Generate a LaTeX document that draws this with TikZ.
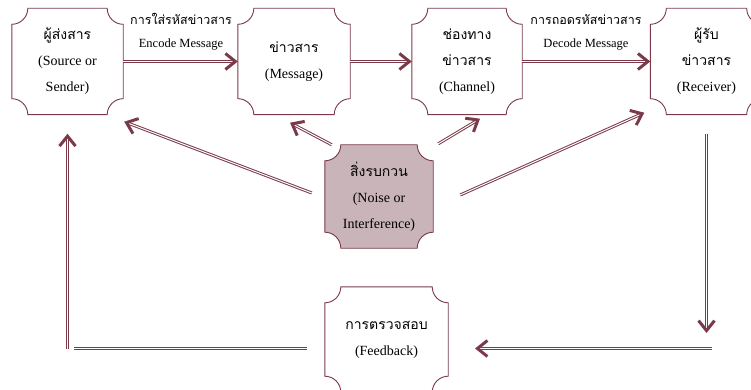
\documentclass[tikz,border=0pt]{standalone}
\usepackage{fontspec}
\setmainfont{Liberation Serif}
\newfontfamily\thai[Script=Thai]{Loma}
\usetikzlibrary{arrows.meta,calc,backgrounds,decorations.markings}
\definecolor{wine}{RGB}{122,58,74}
\definecolor{mauve}{RGB}{201,181,185}

\begin{document}
\begin{tikzpicture}[x=1pt,y=1pt,
    box/.style={minimum width=#1, minimum height=106pt, inner sep=0pt, align=center,
      font=\fontsize{14}{26}\selectfont},
    plaque/.style={draw=wine, line width=0.9pt},
    rail/.style={draw=wine, line width=1pt, double=white, double distance=1pt},
    link/.style={rail, shorten >=3pt, postaction={decorate, decoration={markings,
      mark=at position 1 with {\arrow[wine, line width=3pt]{Straight Barb[length=10pt,width=16pt]}}}}},
    lbl/.style={align=center, font=\fontsize{12.5}{23}\selectfont}]
    \useasboundingbox (0,0) rectangle (751,-390);

    % top row
    \node[box=111pt] (sender) at (67.5,-61.5) {{\thai ผู้ส่งสาร}\\(Source or\\Sender)};
    \node[box=112pt] (message) at (294,-61.5) {{\thai ข่าวสาร}\\(Message)};
    \node[box=110pt] (channel) at (467,-61.5) {{\thai ช่องทาง}\\{\thai ข่าวสาร}\\(Channel)};
    \node[box=112pt] (receiver) at (706.5,-61.5) {{\thai ผู้รับ}\\{\thai ข่าวสาร}\\(Receiver)};

    % middle and bottom
    \node[box=108pt, minimum height=103pt] (noise) at (379,-196.5) {{\thai สิ่งรบกวน}\\(Noise or\\Interference)};
    \node[box=123pt, minimum height=105pt] (feedback) at (386.5,-339.5) {{\thai การตรวจสอบ}\\(Feedback)};

    \node[lbl] (enclbl) at (181,-32) {{\thai การใส่รหัสข่าวสาร}\\Encode Message};
    \node[lbl] (declbl) at (586,-32) {{\thai การถอดรหัสข่าวสาร}\\Decode Message};

    % plaque outlines
    \begin{scope}[on background layer]
    \fill[white] (0,0) rectangle (751,-390);
    \foreach \b/\c in {sender/white,message/white,channel/white,receiver/white,noise/mauve,feedback/white}
      \draw[plaque, fill=\c] let \p1=(\b.north west), \p2=(\b.south east) in
        (\x1+16pt,\y1) -- (\x2-16pt,\y1) arc[start angle=180,end angle=270,radius=16]
        -- (\x2,\y2+16pt) arc[start angle=90,end angle=180,radius=16]
        -- (\x1+16pt,\y2) arc[start angle=0,end angle=90,radius=16]
        -- (\x1,\y1-16pt) arc[start angle=270,end angle=360,radius=16] -- cycle;
    \end{scope}

    % message flow
    \draw[link] (sender) -- (message);
    \draw[link] (message) -- (channel);
    \draw[link] (channel) -- (receiver);

    % noise
    \draw[link] ([shift={(-13pt,3.5pt)}]noise.west) -- ([shift={(1pt,-7pt)}]sender.south east);
    \draw[link] ([xshift=7pt]noise.north west) -- ([shift={(-4pt,-8pt)}]message.south);
    \draw[link] ([shift={(5pt,1pt)}]noise.north east) -- ([shift={(13pt,-4pt)}]channel.south);
    \draw[link] ([shift={(27pt,1.5pt)}]noise.east) -- ([shift={(-6pt,2pt)}]receiver.south west);

    % feedback loop
    \coordinate (rdrop) at (706.5,-333);
    \coordinate (rturn) at (712,-348.5);
    \coordinate (fbin) at (475,-348.5);
    \coordinate (fbout) at (307,-348.5);
    \coordinate (lturn) at (74,-348.5);
    \coordinate (lfoot) at (67.5,-348.5);
    \draw[link] ([yshift=-19pt]receiver.south) -- (rdrop);
    \draw[link] (rturn) -- (fbin);
    \draw[rail] (fbout) -- (lturn);
    \draw[link] (lfoot) -- ([yshift=-19pt]sender.south);
\end{tikzpicture}
\end{document}
